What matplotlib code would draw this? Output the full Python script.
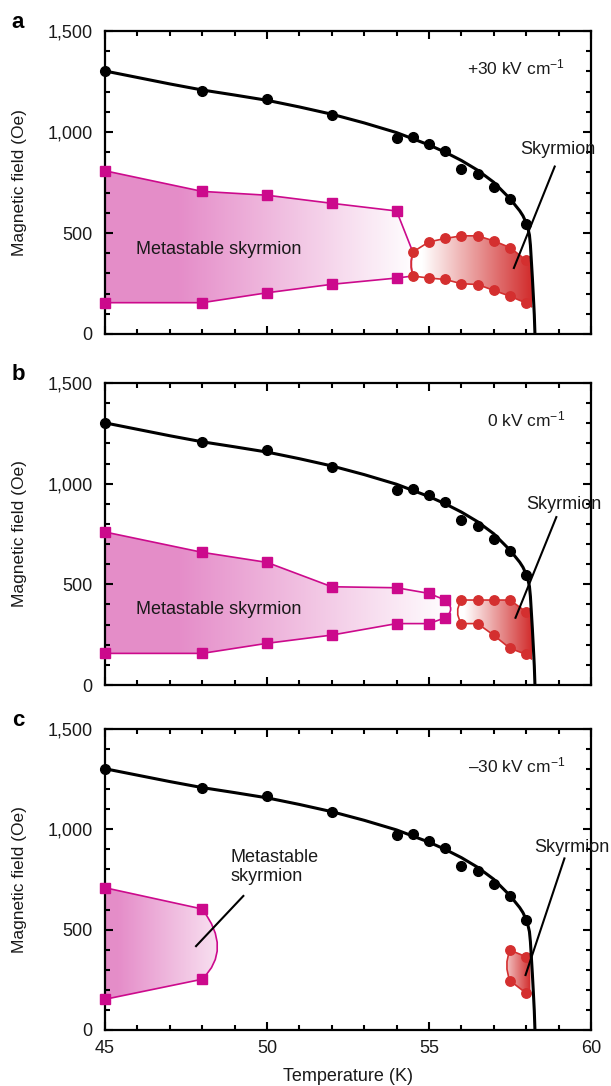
import numpy as np
import matplotlib
matplotlib.use('Agg')
import matplotlib.pyplot as plt
from matplotlib.path import Path
from matplotlib.patches import PathPatch
from matplotlib.ticker import MultipleLocator, FuncFormatter

plt.rcParams['font.family'] = ['Liberation Sans', 'DejaVu Sans']
plt.rcParams['mathtext.fontset'] = 'custom'
plt.rcParams['mathtext.rm'] = 'Liberation Sans'
plt.rcParams['mathtext.it'] = 'Liberation Sans:italic'
plt.rcParams['mathtext.bf'] = 'Liberation Sans:bold'

# ---------------- data ----------------
black_T = [45, 48, 50, 52, 54, 54.5, 55, 55.5, 56, 56.5, 57, 57.5, 58]
black_H = [1300, 1205, 1165, 1085, 970, 975, 942, 907, 818, 791, 726, 668, 546]

fit_T = [45, 46, 47, 48, 49, 50, 51, 52, 53, 54, 55, 55.5, 56, 56.5, 57, 57.5,
         57.8, 57.9, 58.0, 58.05, 58.1, 58.13, 58.16, 58.19, 58.22, 58.25, 58.27]
fit_H = [1302, 1270, 1238, 1208, 1183, 1157, 1124, 1088, 1045, 997, 936, 900,
         859, 811, 751, 670, 610, 585, 550, 525, 490, 440, 360, 280, 190, 95, 0]

# panel a (+30 kV/cm)
a_meta_T = [45, 48, 50, 52, 54]
a_meta_up = [808, 706, 687, 647, 609]
a_meta_lo = [155, 155, 204, 246, 277]
a_sky_T = [54.5, 55, 55.5, 56, 56.5, 57, 57.5, 58]
a_sky_up = [406, 456, 473, 486, 486, 461, 428, 365]
a_sky_lo = [287, 277, 270, 249, 245, 216, 187, 153]

# panel b (0 kV/cm)
b_meta_T = [45, 48, 50, 52, 54, 55, 55.5]
b_meta_up = [760, 659, 609, 488, 483, 455, 422]
b_meta_lo = [157, 157, 207, 248, 305, 305, 334]
b_sky_T = [56, 56.5, 57, 57.5, 58]
b_sky_up = [422, 422, 422, 422, 363]
b_sky_lo = [305, 305, 247, 182, 152]

# panel c (-30 kV/cm)
c_meta_T = [45, 48]
c_meta_up = [709, 603]
c_meta_lo = [153, 253]
c_sky_T = [57.5, 58]
c_sky_up = [398, 365]
c_sky_lo = [246, 183]

field_labels = ['+30 kV cm$^{\\mathregular{-1}}$', '0 kV cm$^{\\mathregular{-1}}$',
                '\u201330 kV cm$^{\\mathregular{-1}}$']
panel_letters = ['a', 'b', 'c']

# ---------------- styles ----------------
PINK_LINE = '#cc0a8c'
PINK_FILL = (0.898, 0.553, 0.788)
RED_LINE = '#d42f2f'
RED_FILL = (0.82, 0.17, 0.17)
WHITE = (1.0, 1.0, 1.0)
TXT = '#1a1a1a'


def ctrl(p0, mid, p2):
    return (2 * mid[0] - (p0[0] + p2[0]) / 2, 2 * mid[1] - (p0[1] + p2[1]) / 2)


def region(upT, upH, loT, loH, right_mid=None, left_mid=None, right_edge=None):
    up = list(zip(upT, upH))
    lo = list(zip(loT, loH))
    verts = [up[0]]
    codes = [Path.MOVETO]
    for p in up[1:]:
        verts.append(p); codes.append(Path.LINETO)
    if right_edge is not None:
        te, ht, hb = right_edge
        verts += [(te, ht), (te, hb), lo[-1]]
        codes += [Path.LINETO] * 3
    elif right_mid is not None:
        verts += [ctrl(up[-1], right_mid, lo[-1]), lo[-1]]
        codes += [Path.CURVE3, Path.CURVE3]
    else:
        verts.append(lo[-1]); codes.append(Path.LINETO)
    for p in lo[-2::-1]:
        verts.append(p); codes.append(Path.LINETO)
    if left_mid is not None:
        verts += [ctrl(lo[0], left_mid, up[0]), up[0]]
        codes += [Path.CURVE3, Path.CURVE3]
    else:
        verts.append(up[0]); codes.append(Path.LINETO)
    return Path(verts, codes)


def meta_outline(upT, upH, loT, loH, right_mid=None):
    up = list(zip(upT, upH))
    lo = list(zip(loT, loH))
    verts = [up[0]]
    codes = [Path.MOVETO]
    for p in up[1:]:
        verts.append(p); codes.append(Path.LINETO)
    if right_mid is not None:
        verts += [ctrl(up[-1], right_mid, lo[-1]), lo[-1]]
        codes += [Path.CURVE3, Path.CURVE3]
    else:
        verts.append(lo[-1]); codes.append(Path.LINETO)
    for p in lo[-2::-1]:
        verts.append(p); codes.append(Path.LINETO)
    return Path(verts, codes)


def sky_outline(upT, upH, loT, loH, left_mid, right_edge):
    te, ht, hb = right_edge
    up = list(zip(upT, upH))
    lo = list(zip(loT, loH))
    verts = [(te, ht)] + up[::-1]
    codes = [Path.MOVETO] + [Path.LINETO] * len(up)
    verts += [ctrl(up[0], left_mid, lo[0]), lo[0]]
    codes += [Path.CURVE3, Path.CURVE3]
    for p in lo[1:]:
        verts.append(p); codes.append(Path.LINETO)
    verts.append((te, hb)); codes.append(Path.LINETO)
    return Path(verts, codes)


def grad_fill(ax, path, stops_x, stops_c):
    xs = np.linspace(45, 60, 900)
    cols = np.array(stops_c)
    img = np.stack([np.interp(xs, stops_x, cols[:, k]) for k in range(3)], axis=-1)
    img = np.repeat(img[None, :, :], 2, axis=0)
    patch = PathPatch(path, facecolor='none', edgecolor='none')
    ax.add_patch(patch)
    im = ax.imshow(img, extent=[45, 60, 0, 1500], origin='lower', aspect='auto',
                   interpolation='bilinear', zorder=1)
    im.set_clip_path(patch)


fig = plt.figure(figsize=(6.11, 10.86), dpi=100)
tops = [31, 383, 729]
bottoms = [334, 685, 1030]
W, H = 611.0, 1086.0
axes = []
for t, b in zip(tops, bottoms):
    ax = fig.add_axes([105 / W, 1 - b / H, 486 / W, (b - t) / H])
    axes.append(ax)

cfg = [
    dict(meta=(a_meta_T + [54.5], a_meta_up + [a_sky_up[0]], a_meta_T + [54.5], a_meta_lo + [a_sky_lo[0]]),
         meta_mid=(54.45, 346), meta_stops=([45, 47.3, 54.6], [PINK_FILL, PINK_FILL, WHITE]),
         sky=(a_sky_T, a_sky_up, a_sky_T, a_sky_lo), sky_left=(54.45, 346),
         sky_edge=(58.18, 352, 133), sky_stops=([54.8, 58.2], [WHITE, RED_FILL]),
         sq=(a_meta_T, a_meta_up, a_meta_lo), ci=(a_sky_T, a_sky_up, a_sky_lo),
         meta_text=dict(x=45.96, y=416, s='Metastable skyrmion'), meta_ptr=None,
         sky_text=(58.98, 911), sky_ptr=((58.88, 57.62), (829, 327))),
    dict(meta=(b_meta_T, b_meta_up, b_meta_T, b_meta_lo),
         meta_mid=(55.67, 378), meta_stops=([45, 47.3, 55.7], [PINK_FILL, PINK_FILL, WHITE]),
         sky=(b_sky_T, b_sky_up, b_sky_T, b_sky_lo), sky_left=(55.88, 363),
         sky_edge=(58.18, 351, 127), sky_stops=([56.1, 58.2], [WHITE, RED_FILL]),
         sq=(b_meta_T, b_meta_up, b_meta_lo), ci=(b_sky_T, b_sky_up, b_sky_lo),
         meta_text=dict(x=45.96, y=373, s='Metastable skyrmion'), meta_ptr=None,
         sky_text=(59.16, 897), sky_ptr=((58.93, 57.67), (834, 334))),
    dict(meta=(c_meta_T, c_meta_up, c_meta_T, c_meta_lo),
         meta_mid=(48.47, 415), meta_stops=([45, 45.4, 49.6], [PINK_FILL, PINK_FILL, WHITE]),
         sky=(c_sky_T, c_sky_up, c_sky_T, c_sky_lo), sky_left=(57.4, 322),
         sky_edge=(58.13, 355, 168), sky_stops=([57.1, 58.15], [WHITE, RED_FILL]),
         sq=(c_meta_T, c_meta_up, c_meta_lo), ci=(c_sky_T, c_sky_up, c_sky_lo),
         meta_text=dict(x=48.86, y=812, s='Metastable\nskyrmion'),
         meta_ptr=((49.27, 47.81), (668, 418)),
         sky_text=(59.41, 910), sky_ptr=((59.18, 57.98), (855, 274))),
]

for i, (ax, c) in enumerate(zip(axes, cfg)):
    mp = region(*c['meta'], right_mid=c['meta_mid'])
    grad_fill(ax, mp, *c['meta_stops'])
    ax.add_patch(PathPatch(meta_outline(*c['meta'], right_mid=c['meta_mid']),
                           facecolor='none', edgecolor=PINK_LINE, lw=1.2, zorder=2))
    sp = region(*c['sky'], left_mid=c['sky_left'], right_edge=c['sky_edge'])
    grad_fill(ax, sp, *c['sky_stops'])
    ax.add_patch(PathPatch(sky_outline(*c['sky'], left_mid=c['sky_left'], right_edge=c['sky_edge']),
                           facecolor='none', edgecolor=RED_LINE, lw=1.2, zorder=2))
    T, up, lo = c['sq']
    ax.plot(T + T, up + lo, 's', color=PINK_LINE, ms=7, mec=PINK_LINE, zorder=3, clip_on=False)
    T, up, lo = c['ci']
    ax.plot(T + T, up + lo, 'o', color=RED_LINE, ms=6.8, mec=RED_LINE, zorder=3)
    ax.plot(fit_T, fit_H, '-', color='black', lw=2.2, zorder=4, solid_capstyle='butt')
    ax.plot(black_T, black_H, 'o', color='black', ms=7, zorder=5, clip_on=False)

    mt = c['meta_text']
    ax.text(mt['x'], mt['y'], mt['s'], fontsize=13, ha='left', va='center', zorder=6,
            color=TXT, linespacing=1.15)
    if c['meta_ptr'] is not None:
        ax.plot(*c['meta_ptr'], color='black', lw=1.5, zorder=6)
    ax.text(c['sky_text'][0], c['sky_text'][1], 'Skyrmion', fontsize=13, ha='center',
            va='center', zorder=6, color=TXT)
    ax.plot(*c['sky_ptr'], color='black', lw=1.5, zorder=6, clip_on=False)
    ax.text(59.2, 1320, field_labels[i], fontsize=12.5, ha='right', va='center', color=TXT)

    ax.set_xlim(45, 60)
    ax.set_ylim(0, 1500)
    ax.xaxis.set_major_locator(MultipleLocator(5))
    ax.xaxis.set_minor_locator(MultipleLocator(1))
    ax.yaxis.set_major_locator(MultipleLocator(500))
    ax.yaxis.set_minor_locator(MultipleLocator(100))
    ax.yaxis.set_major_formatter(FuncFormatter(lambda v, p: '{:,.0f}'.format(v)))
    ax.tick_params(which='both', direction='in', top=True, right=True, width=1.5,
                   labelsize=13, colors='black', labelcolor=TXT)
    ax.tick_params(which='major', length=6)
    ax.tick_params(which='minor', length=3.6)
    ax.tick_params(axis='y', pad=9)
    ax.tick_params(axis='x', pad=7)
    for s in ax.spines.values():
        s.set_linewidth(1.6)
    if i < 2:
        ax.tick_params(axis='x', labelbottom=False)
    ax.set_ylabel('Magnetic field (Oe)', fontsize=12.5, color=TXT)
    ax.yaxis.set_label_coords(-0.16, 0.5)
    fig.text(18 / W, 1 - (tops[i] - 9) / H, panel_letters[i], fontsize=16,
             fontweight='bold', ha='center', va='center')

axes[2].set_xlabel('Temperature (K)', fontsize=13, labelpad=8, color=TXT)

fig.savefig('out.png', dpi=100)
